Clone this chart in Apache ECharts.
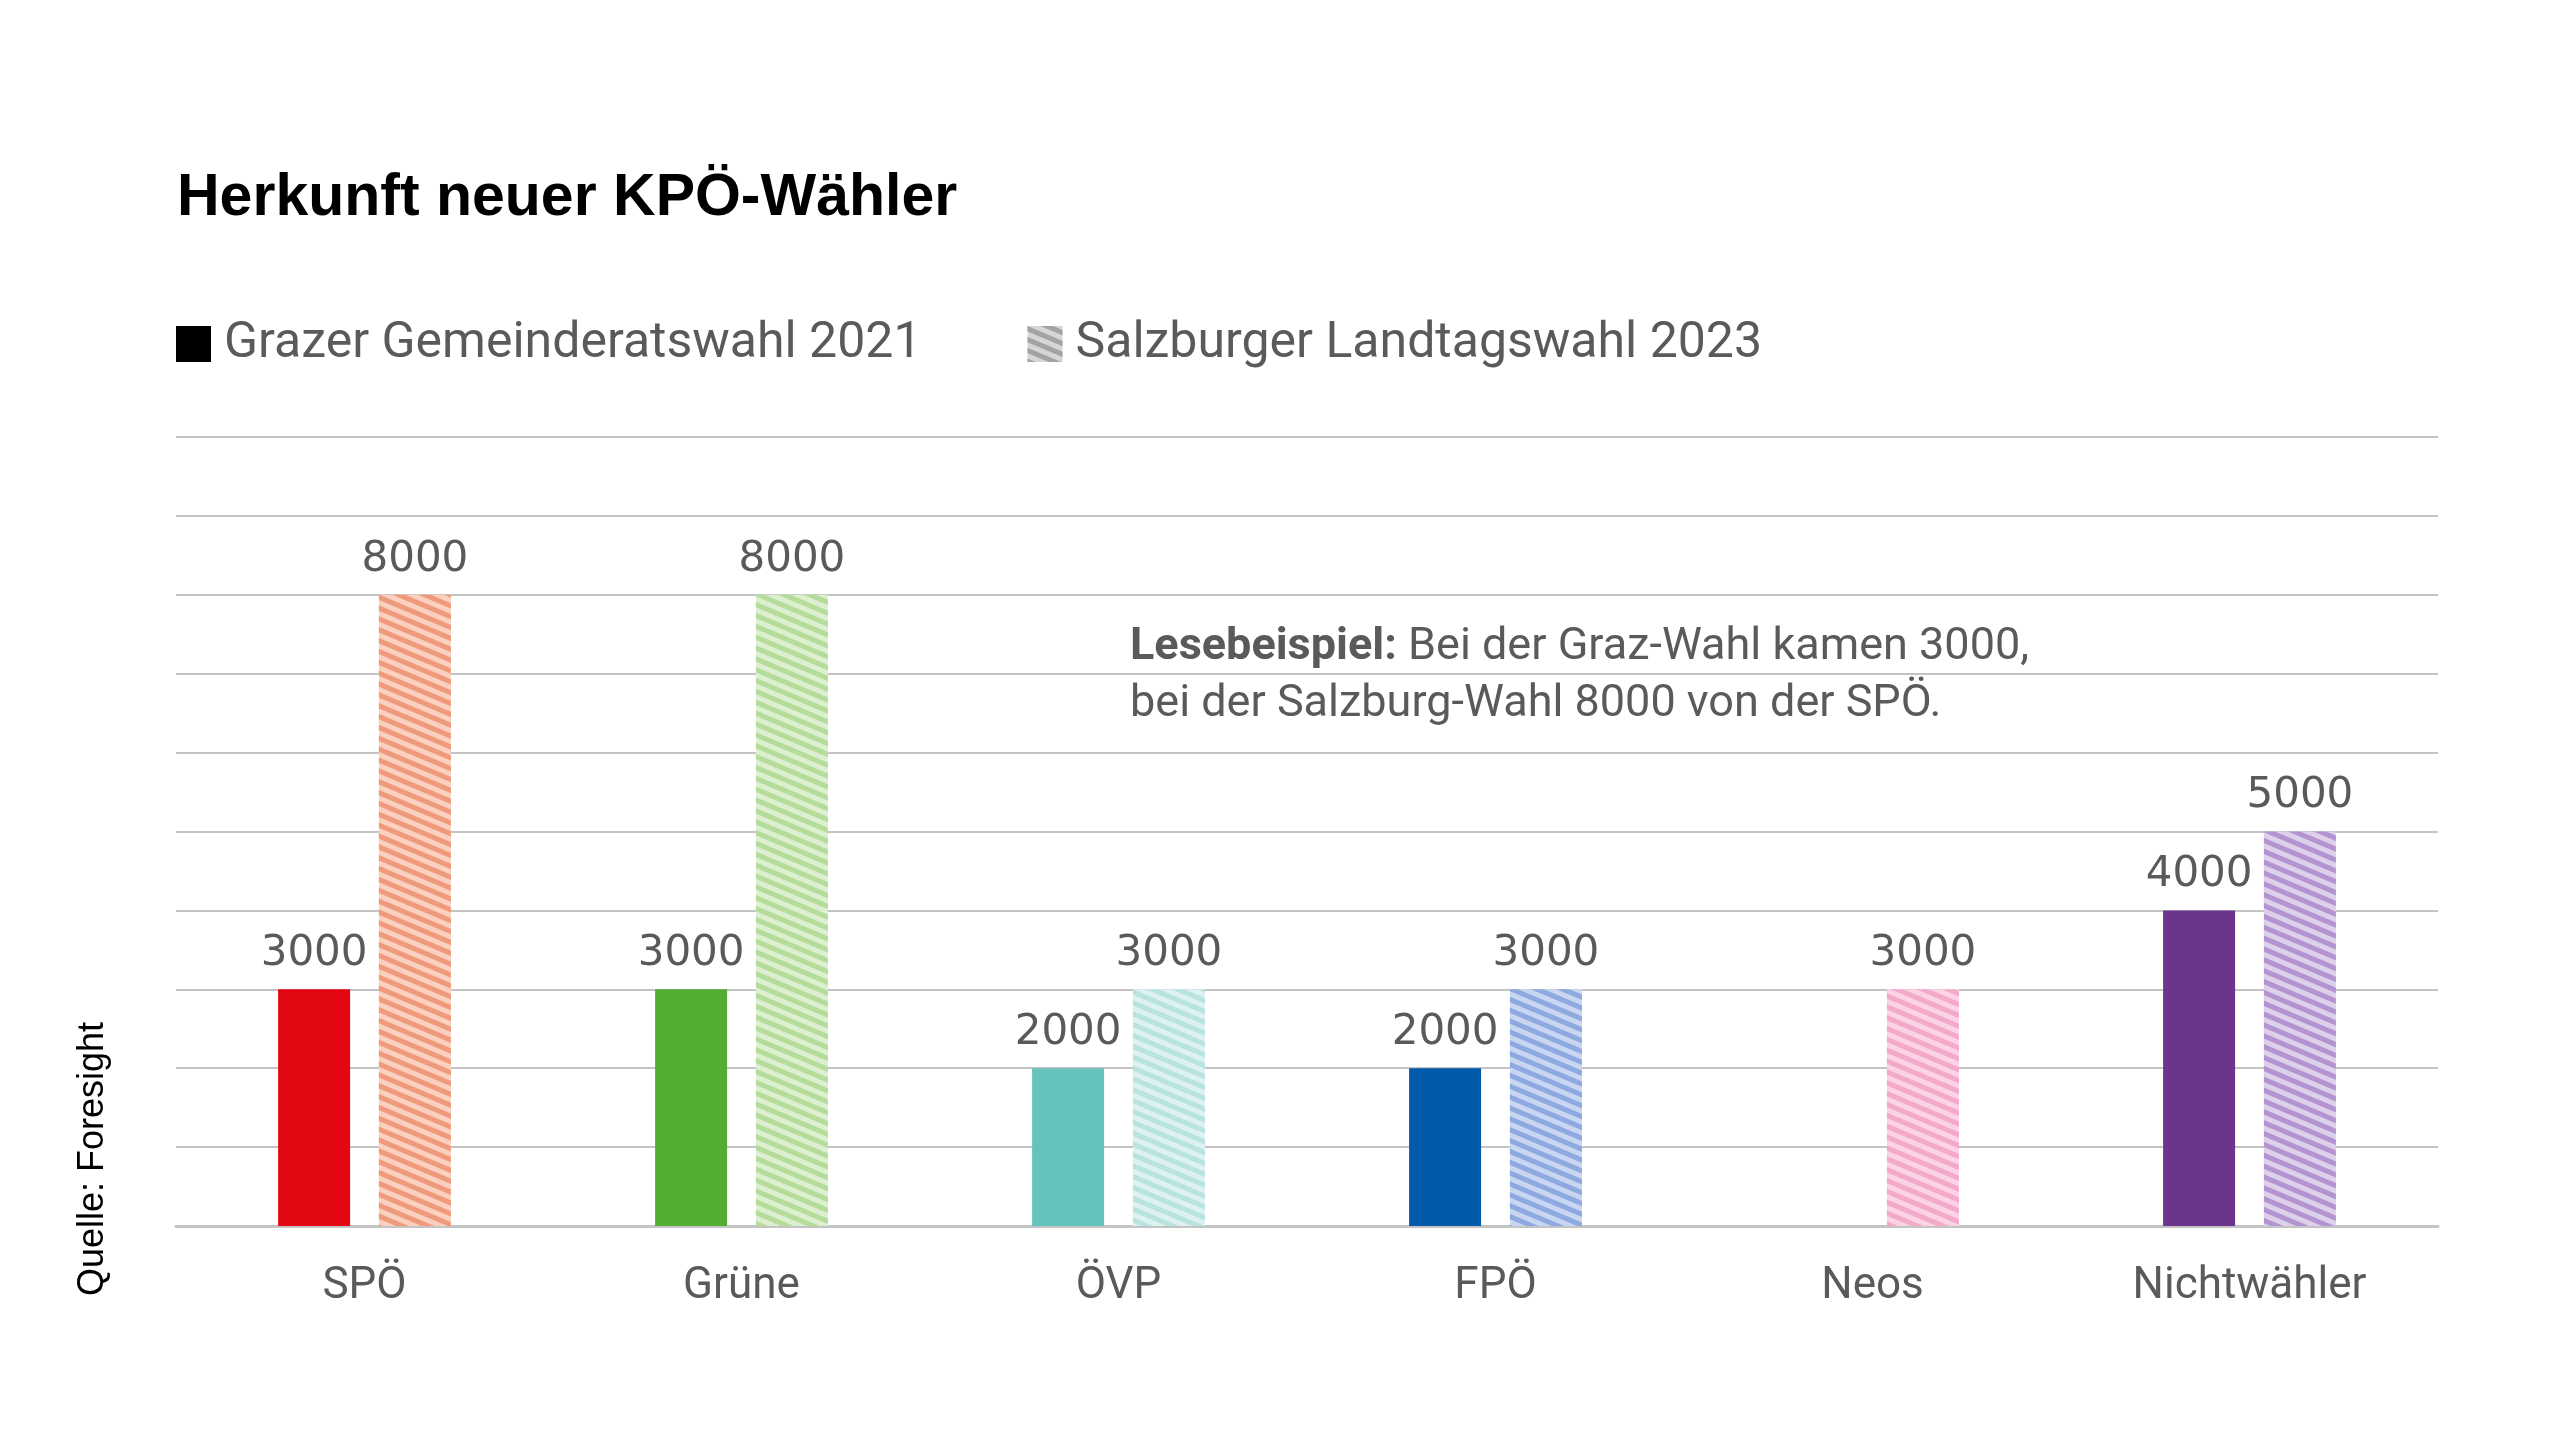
<!DOCTYPE html>
<html>
<head>
<meta charset="utf-8">
<title>Herkunft neuer KPÖ-Wähler</title>
<script src="https://cdn.jsdelivr.net/npm/echarts@6/dist/echarts.min.js"></script>
<style>
    html, body {margin: 0; padding: 0; background: #fff;}
    #main {width: 2560px; height: 1441px;}
</style>
</head>
<body>
<div id="main"></div>
<script>
// Daten
var aCategories = ['SPÖ', 'Grüne', 'ÖVP', 'FPÖ', 'Neos', 'Nichtwähler'];
var aGraz2021 = [3000, 3000, 2000, 2000, '-', 4000];
var aSalzburg2023 = [8000, 8000, 3000, 3000, 3000, 5000];
var aSeriesNames = ['Grazer Gemeinderatswahl 2021', 'Salzburger Landtagswahl 2023'];

// Farben je Partei: voll, schraffiert Hintergrund, schraffiert Streifen
var aSolidColors = ['#E30613', '#52AE32', '#66C3BC', '#005BAA', '#E40D7E', '#6B3589'];
var aHatchBg = ['#FAD0BE', '#DCEFCF', '#DDF2F0', '#C9D6F1', '#FBD3E5', '#DDD0EA'];
var aHatchStripe = ['#EF9A7C', '#B5DC9B', '#B8E3DF', '#8EA9DF', '#F3A9C9', '#B394D0'];

var sGrey = '#5a5a5a';
var sGridColor = '#c4c4c4';

function Stripes(sColor) {
    return {
        symbol: 'rect',
        symbolSize: 1,
        dashArrayX: [1, 0],
        dashArrayY: [5, 4.5],
        rotation: 0.4,
        color: sColor
    };
}

function SolidData() {
    var aData = [];
    for (var i = 0; i < aGraz2021.length; i++) {
        aData.push({value: aGraz2021[i], itemStyle: {color: aSolidColors[i]}});
    }
    return aData
}

function HatchData() {
    var aData = [];
    for (var i = 0; i < aSalzburg2023.length; i++) {
        aData.push({
            value: aSalzburg2023[i],
            itemStyle: {color: aHatchBg[i], decal: Stripes(aHatchStripe[i])}
        });
    }
    return aData
}

function GetOption() {
    var jLabel = {
        show: true,
        position: 'top',
        distance: 14,
        fontFamily: 'DejaVu Sans',
        fontSize: 42,
        color: sGrey
    };
    var jOption = {
        animation: false,
        backgroundColor: '#fff',
        title: {
            text: 'Herkunft neuer KPÖ-Wähler',
            left: 172,
            top: 164,
            textStyle: {fontFamily: 'Liberation Sans', fontWeight: 'bold', fontSize: 59, color: '#000'}
        },
        legend: {
            data: aSeriesNames,
            left: 176,
            top: 319,
            padding: 0,
            icon: 'rect',
            itemWidth: 35,
            itemHeight: 36,
            itemGap: 106,
            textStyle: {fontFamily: 'Roboto', fontSize: 50, color: sGrey, padding: [0, 0, 0, 8]}
        },
        grid: {left: 176, right: 122, top: 437, bottom: 215, containLabel: false},
        xAxis: {
            type: 'category',
            data: aCategories,
            axisTick: {show: false},
            axisLine: {lineStyle: {color: sGridColor, width: 3}},
            axisLabel: {fontFamily: 'Roboto', fontSize: 44, color: sGrey, margin: 39}
        },
        yAxis: {
            type: 'value',
            min: 0,
            max: 10000,
            interval: 1000,
            axisLabel: {show: false},
            axisLine: {show: false},
            axisTick: {show: false},
            splitLine: {lineStyle: {color: sGridColor, width: 2}}
        },
        series: [
            {
                name: aSeriesNames[0],
                type: 'bar',
                barWidth: 72,
                barGap: '40%',
                itemStyle: {color: '#000'},
                label: jLabel,
                data: SolidData()
            },
            {
                name: aSeriesNames[1],
                type: 'bar',
                barWidth: 72,
                barGap: '40%',
                itemStyle: {color: '#d6d6d6', decal: Stripes('#a3a3a3')},
                label: jLabel,
                data: HatchData()
            }
        ],
        graphic: [
            {
                // Lesebeispiel
                type: 'group',
                z: 100,
                children: [
                    {
                        type: 'rect',
                        shape: {x: 1094, y: 622, width: 975, height: 112},
                        style: {fill: '#fff'}
                    },
                    {
                        type: 'text',
                        x: 1130,
                        y: 619,
                        style: {
                            text: '{b|Lesebeispiel:}{n| Bei der Graz-Wahl kamen 3000,}\n{n|bei der Salzburg-Wahl 8000 von der SPÖ.}',
                            rich: {
                                b: {fontFamily: 'Roboto', fontWeight: 'bold', fontSize: 45, lineHeight: 57, fill: sGrey},
                                n: {fontFamily: 'Roboto', fontSize: 45, lineHeight: 57, fill: sGrey}
                            }
                        }
                    }
                ]
            },
            {
                type: 'text',
                x: 93,
                y: 1159,
                rotation: Math.PI / 2,
                style: {
                    text: 'Quelle: Foresight',
                    fontFamily: 'Liberation Sans',
                    fontSize: 36,
                    fill: '#000',
                    align: 'center',
                    verticalAlign: 'middle'
                }
            }
        ]
    };
    return jOption
}

function SetOption(jOption, sTagID) {
    var objectDom = document.getElementById(sTagID);
    var myChart = echarts.init(objectDom);
    myChart.setOption(jOption);
    return myChart
}

SetOption(GetOption(), 'main');
</script>
</body>
</html>
